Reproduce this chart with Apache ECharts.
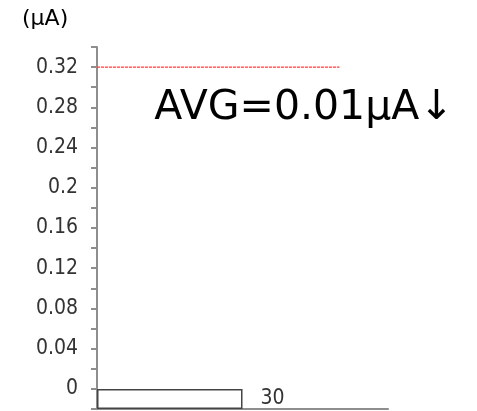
<!DOCTYPE html>
<html>
<head>
<meta charset="utf-8">
<script src="https://cdn.jsdelivr.net/npm/echarts@6/dist/echarts.min.js"></script>
<style>
  html, body { margin: 0; padding: 0; background: #fff; }
  #chart { width: 477px; height: 411px; }
</style>
</head>
<body>
<div id="chart"></div>
<script>
// histogram bins (lower bound of each 0.02 uA bin) and counts
const binStarts = [-0.02, 0, 0.02, 0.04, 0.06, 0.08, 0.1, 0.12, 0.14, 0.16,
                   0.18, 0.2, 0.22, 0.24, 0.26, 0.28, 0.3, 0.32];
const binCounts = [30, 0, 0, 0, 0, 0, 0, 0, 0, 0, 0, 0, 0, 0, 0, 0, 0, 0];
// limit line and average annotation
const limitValue = 0.32;
const limitSpan = [0, 50];
const unitLabel = '(μA)';
const avgText = 'AVG=0.01μA↓';

const chart = echarts.init(document.getElementById('chart'));
const axisGray = '#8e8e8e';
const tickFont = '"DejaVu Sans Condensed", "DejaVu Sans"';

chart.setOption({
    animation: false,
    grid: { left: 97, right: 89, top: 47, bottom: 2 },
    xAxis: {
        type: 'value',
        min: 0,
        max: 60,
        axisLine: { show: true, onZero: false, lineStyle: { color: axisGray, width: 2 } },
        axisTick: { show: false },
        axisLabel: { show: false },
        splitLine: { show: false }
    },
    yAxis: [
        {
            type: 'value',
            min: -0.02,
            max: 0.34,
            interval: 0.02,
            axisLine: { show: true, onZero: false, lineStyle: { color: axisGray, width: 2 } },
            axisTick: { show: true, length: 6, lineStyle: { color: axisGray, width: 2 } },
            axisLabel: {
                margin: 19,
                color: '#333',
                fontFamily: tickFont,
                fontSize: 21,
                showMinLabel: true,
                showMaxLabel: true,
                formatter: v => {
                    const c = Math.round(v * 100);
                    return (c >= 0 && c % 4 === 0) ? String(c / 100) : '';
                }
            },
            splitLine: { show: false }
        },
        {
            type: 'category',
            show: false,
            data: binStarts.map(String)
        }
    ],
    series: [
        {
            type: 'bar',
            yAxisIndex: 1,
            barWidth: '100%',
            data: binCounts.map(c => c || null),
            itemStyle: { color: '#fff', borderColor: '#444', borderWidth: 1.5 },
            label: {
                show: true,
                position: 'right',
                distance: 18,
                color: '#333',
                fontFamily: tickFont,
                fontSize: 21
            }
        },
        {
            type: 'line',
            yAxisIndex: 0,
            symbol: 'none',
            data: limitSpan.map(x => [x, limitValue]),
            lineStyle: { color: '#ff3b3b', width: 1.2, type: [3, 1] }
        }
    ],
    graphic: [
        {
            type: 'text',
            left: 22,
            top: 8,
            style: { text: unitLabel, font: '22px "DejaVu Sans"', fill: '#000' }
        },
        {
            type: 'text',
            x: 304,
            y: 108,
            style: {
                text: avgText,
                font: '41px "DejaVu Sans"',
                fill: '#000',
                align: 'center',
                verticalAlign: 'middle'
            }
        }
    ]
});
</script>
</body>
</html>
